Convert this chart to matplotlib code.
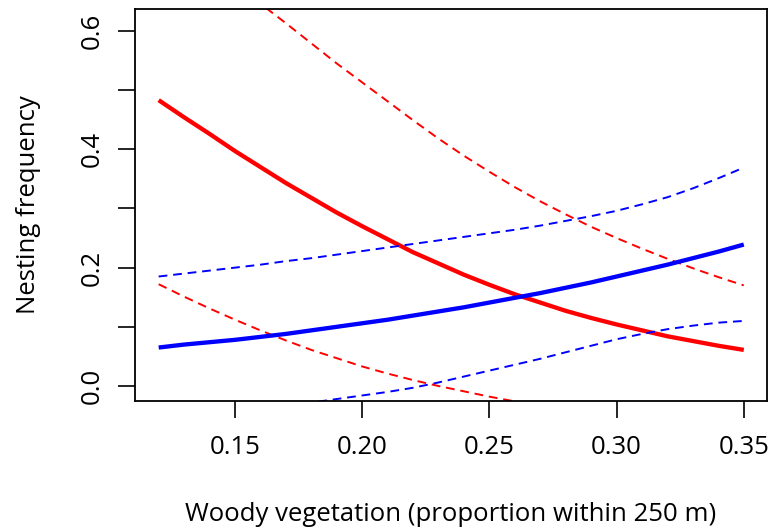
import matplotlib
matplotlib.use("Agg")
import matplotlib.pyplot as plt
import numpy as np

plt.rcParams['font.family'] = ['Open Sans', 'DejaVu Sans']

###--- Data ---###
woody = [0.12, 0.13, 0.14, 0.15, 0.16, 0.17, 0.18, 0.19, 0.20, 0.21, 0.22, 0.23,
         0.24, 0.25, 0.26, 0.27, 0.28, 0.29, 0.30, 0.31, 0.32, 0.33, 0.34, 0.35]

red_fit = [0.483, 0.454, 0.426, 0.397, 0.370, 0.343, 0.318, 0.293, 0.270, 0.248, 0.226, 0.207,
           0.188, 0.171, 0.155, 0.141, 0.127, 0.115, 0.104, 0.094, 0.084, 0.076, 0.068, 0.061]
red_upper = [0.790, 0.755, 0.717, 0.680, 0.646, 0.613, 0.579, 0.545, 0.513, 0.481, 0.449, 0.418,
             0.389, 0.362, 0.336, 0.312, 0.290, 0.269, 0.250, 0.232, 0.215, 0.199, 0.184, 0.170]
red_lower = [0.172, 0.151, 0.131, 0.112, 0.094, 0.077, 0.061, 0.047, 0.033, 0.021, 0.010, 0.000,
             -0.009, -0.018, -0.026, -0.032, -0.037, -0.041, -0.044, -0.046, -0.047, -0.047, -0.047, -0.047]

blue_fit = [0.065, 0.070, 0.074, 0.078, 0.083, 0.088, 0.094, 0.100, 0.106, 0.112, 0.119, 0.126,
            0.133, 0.141, 0.149, 0.157, 0.166, 0.175, 0.185, 0.195, 0.205, 0.216, 0.227, 0.239]
blue_upper = [0.185, 0.190, 0.195, 0.200, 0.205, 0.211, 0.216, 0.222, 0.228, 0.234, 0.240, 0.246,
              0.252, 0.258, 0.264, 0.271, 0.279, 0.287, 0.296, 0.307, 0.319, 0.334, 0.351, 0.369]
blue_lower = [-0.054, -0.050, -0.046, -0.042, -0.038, -0.033, -0.028, -0.022, -0.016, -0.010, -0.003, 0.006,
              0.016, 0.026, 0.036, 0.046, 0.057, 0.068, 0.079, 0.088, 0.096, 0.102, 0.107, 0.110]

x_ticks = [0.15, 0.20, 0.25, 0.30, 0.35]
y_ticks = [0.0, 0.2, 0.4, 0.6]
y_minor = [0.1, 0.3, 0.5]

###--- Plot ---###
fig = plt.figure(figsize=(7.71, 5.30), dpi=100)
ax = fig.add_axes([0.1751, 0.2440, 0.8193, 0.7390])

dash = (0, (4.5, 3))
ax.plot(woody, red_fit, color='red', lw=3.1, solid_capstyle='butt')
ax.plot(woody, red_upper, color='red', lw=1.4, linestyle=dash)
ax.plot(woody, red_lower, color='red', lw=1.4, linestyle=dash)
ax.plot(woody, blue_fit, color='blue', lw=3.1, solid_capstyle='butt')
ax.plot(woody, blue_upper, color='blue', lw=1.4, linestyle=dash)
ax.plot(woody, blue_lower, color='blue', lw=1.4, linestyle=dash)

ax.set_xlim(0.1107, 0.3590)
ax.set_ylim(-0.0248, 0.637)

ax.set_xticks(x_ticks)
ax.set_xticklabels([f"{v:.2f}" for v in x_ticks])
ax.set_yticks(y_ticks)
ax.set_yticklabels([f"{v:.1f}" for v in y_ticks], rotation=90, va='center')
ax.set_yticks(y_minor, minor=True)

ax.tick_params(axis='both', which='both', direction='out', length=12, width=1.2,
               labelsize=18.5, color='black')
ax.tick_params(axis='x', pad=13)
ax.tick_params(axis='y', pad=10)

for s in ax.spines.values():
    s.set_linewidth(1.3)

ax.set_xlabel("Woody vegetation (proportion within 250 m)", fontsize=18.5, labelpad=30)
ax.set_ylabel("Nesting frequency", fontsize=18.5, labelpad=28)

fig.savefig("out.png", dpi=100)
